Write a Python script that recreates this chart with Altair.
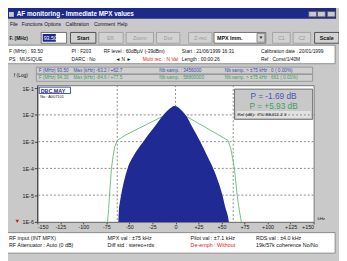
import altair as alt
import pandas as pd

# ---------------- chart values ----------------
# blue trace: measured distribution (kHz, log10 of probability)
blue_khz = [-62, -61.5, -60.5, -59, -56, -52, -45, -35, -24, -13, -8, -4, -1.5,
            1.5, 5, 8, 11, 19, 27, 34, 41, 46.5, 51, 54.5, 57, 58]
blue_exp = [-6.0, -5.6, -5.3, -5.0, -4.5, -4.0, -3.5, -3.0, -2.5, -2.0, -1.82, -1.71, -1.67,
            -1.69, -1.78, -1.88, -2.0, -2.5, -3.0, -3.5, -4.0, -4.5, -5.0, -5.5, -5.8, -6.0]
# green trace: reference curve
green_khz = [-73.7, -72.5, -71.6, -69.5, -67.5, -66, -63, -54.6, -13, 0, 11,
             57, 60, 62, 64, 67, 69.5, 71.6]
green_exp = [-6.0, -5.5, -5.0, -4.0, -3.5, -3.2, -2.95, -2.76, -2.04, -1.95, -2.04,
             -2.95, -3.25, -3.6, -4.0, -5.0, -5.6, -6.0]
baseline = 1e-6
# dotted markers (max deviation of trace 1 and centre) and decade grid
marker_khz = [-63.2, 0, 62.7]
grid_decades = [1e-2, 1e-3, 1e-4, 1e-5]
x_ticks = [-150, -125, -100, -75, -50, -25, 0, 25, 50, 75, 100, 125, 150]
y_ticks = [1e-6, 1e-5, 1e-4, 1e-3, 1e-2, 1e-1]

# ---------------- layout ----------------
OX, OY = 38, 84          # plot origin in window pixels
W, H = 283, 140
FONT = "Liberation Sans"
BLUE = "#1f2a94"
GREEN = "#6cc08a"

blue_df = pd.DataFrame({"khz": blue_khz, "p": [10 ** e for e in blue_exp],
                        "base": [baseline] * len(blue_khz)})
green_df = pd.DataFrame({"khz": green_khz, "p": [10 ** e for e in green_exp]})
vgrid_df = pd.DataFrame({"khz": marker_khz})
hgrid_df = pd.DataFrame({"p": grid_decades})

xscale = alt.Scale(domain=[-150, 150], nice=False, zero=False)
yscale = alt.Scale(type="log", domain=[1e-6, 0.129], nice=False)

xaxis = alt.Axis(values=x_ticks, title=None, grid=False, labelFontSize=5.5, labelFont=FONT,
                 labelColor="#222", tickSize=2, tickColor="#444", labelPadding=1,
                 domainColor="#777",
                 labelExpr="datum.value > 0 ? '+' + datum.value : (datum.value < 0 ? '-' + abs(datum.value) : '0')")
yaxis = alt.Axis(values=y_ticks, title=None, grid=False, labelFontSize=5.5, labelFont=FONT,
                 labelColor="#222", tickSize=3, tickColor="#444", labelPadding=1,
                 domainColor="#333",
                 labelExpr="'1E-' + round(-log(datum.value) / LN10)")

vgrid = alt.Chart(vgrid_df).mark_rule(color="#8a8a8a", strokeDash=[2, 2], strokeWidth=1).encode(
    x=alt.X("khz:Q", scale=xscale, axis=xaxis))
hgrid = alt.Chart(hgrid_df).mark_rule(color="#8a8a8a", strokeDash=[2, 2], strokeWidth=1).encode(
    y=alt.Y("p:Q", scale=yscale, axis=yaxis))
green = alt.Chart(green_df).mark_line(color=GREEN, strokeWidth=1).encode(
    x=alt.X("khz:Q", scale=xscale, axis=xaxis),
    y=alt.Y("p:Q", scale=yscale, axis=yaxis))
blue = alt.Chart(blue_df).mark_area(color=BLUE, opacity=1, interpolate="monotone").encode(
    x=alt.X("khz:Q", scale=xscale, axis=xaxis),
    y=alt.Y("p:Q", scale=yscale, axis=yaxis),
    y2="base:Q")

# ---------------- window chrome (pixel positions) ----------------
BTN = "#d2d2d2"
rects = [
    (3, 3, 344, 16, "#1e2a8a", "transparent"),
    (9, 9, 14, 14, "#c9c9c9", "transparent"),
    (316, 8.5, 324, 14, "#c9c9c9", "#555"), (325, 8.5, 333, 14, "#c9c9c9", "#555"),
    (335, 8.5, 343, 14, "#c9c9c9", "#555"),
    (42, 30, 68, 41, "#ffffff", "#555"),
    (43.5, 31.5, 57, 39.5, "#1e2a8a", "transparent"),
    (72, 30, 98, 41, BTN, "#333"),
    (101, 30, 126, 41, BTN, "#999"), (129, 30, 157, 41, BTN, "#999"),
    (160, 30, 184, 41, BTN, "#999"), (193, 30, 217, 41, BTN, "#999"),
    (219, 30, 272, 41, "#ffffff", "#555"), (263, 31, 271, 40, BTN, "#777"),
    (279, 30, 297, 41, BTN, "#999"), (300, 30, 318, 41, BTN, "#999"),
    (322, 30, 347, 41, BTN, "#333"),
    (5, 43, 343, 62, "#ffffff", "#777"),
    (37, 65.5, 320, 72.5, "#cfcfcf", "#8a8a8a"),
    (37, 73, 320, 80, "#cfcfcf", "#8a8a8a"),
    (40, 86, 72, 92.5, "#ffffff", "#1e2a8a"),
    (240, 88, 320, 119, "#c8c8c8", "#555"),
    (242, 110.5, 318, 117.5, "#e2e2e2", "transparent"),
    (5, 235, 343, 256, "#ffffff", "#777"),
]
rect_df = pd.DataFrame(rects, columns=["x1", "y1", "x2", "y2", "fill", "stroke"])
for c in ["x1", "x2"]:
    rect_df[c] = rect_df[c] - OX
for c in ["y1", "y2"]:
    rect_df[c] = rect_df[c] - OY

BLK, GRY, RED = "#111", "#9a9a9a", "#e02020"
LB, LG = "#3a4db0", "#3c9c5c"
texts = [
    # t, x, y, color, size, weight, align
    ("AF monitoring - Immediate MPX values", 17, 11.5, "#ffffff", 6.5, "bold", "left"),
    ("File", 10, 21.5, BLK, 5, "normal", "left"),
    ("Functions", 22, 21.5, BLK, 5, "normal", "left"),
    ("Options", 45, 21.5, BLK, 5, "normal", "left"),
    ("Calibration", 67, 21.5, BLK, 5, "normal", "left"),
    ("Comment", 96, 21.5, BLK, 5, "normal", "left"),
    ("Help", 120, 21.5, BLK, 5, "normal", "left"),
    ("F. (MHz)", 9.5, 36, BLK, 5, "bold", "left"),
    ("93.50", 44.5, 36, "#ffffff", 5.5, "normal", "left"),
    ("Start", 85, 36, BLK, 5.5, "bold", "center"),
    ("Eff.", 113.5, 36, GRY, 5.5, "normal", "center"),
    ("Zoom", 143, 36, GRY, 5.5, "normal", "center"),
    ("Dur", 172, 36, GRY, 5.5, "normal", "center"),
    ("Z-rec", 205, 36, GRY, 5.5, "normal", "center"),
    ("MPX Imm.", 222, 36, BLK, 5.5, "bold", "left"),
    ("▼", 267, 36, BLK, 4.5, "normal", "center"),
    ("C1", 288, 36, GRY, 5.5, "normal", "center"),
    ("C2", 309, 36, GRY, 5.5, "normal", "center"),
    ("Scale", 334.5, 36, BLK, 5.5, "bold", "center"),
    ("F (MHz) : 93.50", 9, 49.5, BLK, 5, "normal", "left"),
    ("PI : F203", 73, 49.5, BLK, 5, "normal", "left"),
    ("RF level : 60dBµV (-39dBm)", 106, 49.5, BLK, 5, "normal", "left"),
    ("Start : 21/06/1999 16:31", 186, 49.5, BLK, 5, "normal", "left"),
    ("Calibration date : 20/01/1999", 267, 49.5, BLK, 5, "normal", "left"),
    ("PS : MUSIQUE", 9, 57, BLK, 5, "normal", "left"),
    ("DARC : No", 73, 57, BLK, 5, "normal", "left"),
    ("◄ N ►", 118, 57, BLK, 5, "normal", "left"),
    ("Multi rec. : N Val", 146, 57, RED, 5, "normal", "left"),
    ("Length : 00:00:26", 186, 57, BLK, 5, "normal", "left"),
    ("Ref : Const/1/40M", 267, 57, BLK, 5, "normal", "left"),
    ("f (Log)", 14, 73.5, BLK, 5, "normal", "left"),
    ("F (MHz) 93.50", 39.5, 69.2, LB, 4.8, "normal", "left"),
    ("Max (kHz) -63.2 / +62.7", 75, 69.2, LB, 4.8, "normal", "left"),
    ("Nb samp. : 3456000", 163, 69.2, LB, 4.8, "normal", "left"),
    ("Nb samp. > ±75 kHz : 0 ( 0.00%)", 230, 69.2, LB, 4.8, "normal", "left"),
    ("F (MHz) 94.30", 39.5, 76.7, LG, 4.8, "normal", "left"),
    ("Max (kHz) -84.6 / +77.5", 75, 76.7, LG, 4.8, "normal", "left"),
    ("Nb samp. : 58800000", 163, 76.7, LG, 4.8, "normal", "left"),
    ("Nb samp. > ±75 kHz : 661 ( 0.01%)", 230, 76.7, LG, 4.8, "normal", "left"),
    ("DBC.MAY", 41.5, 89.5, "#1e2a8a", 5.5, "bold", "left"),
    ("No : A007101", 41, 96, BLK, 4, "normal", "left"),
    ("P = -1.69 dB", 280, 95, "#4556b8", 8.5, "normal", "center"),
    ("P = +5.93 dB", 280, 105, "#3aa060", 8.5, "normal", "center"),
    ("Ref (dB) :  ITU BS412-2.3", 243, 114.2, BLK, 4.5, "normal", "left"),
    ("kHz", 325, 221.5, BLK, 4.5, "normal", "left"),
    ("RF input (INT MPX)", 9, 240.5, BLK, 5.5, "normal", "left"),
    ("MPX val : ±75 kHz", 110, 240.5, BLK, 5.5, "normal", "left"),
    ("Pilot val : ±7.1 kHz", 195, 240.5, BLK, 5.5, "normal", "left"),
    ("RDS val : ±4.0 kHz", 262, 240.5, BLK, 5.5, "normal", "left"),
    ("RF Attenuator : Auto (0 dB)", 9, 247.5, BLK, 5.5, "normal", "left"),
    ("Diff std : stereo+rds", 110, 247.5, BLK, 5.5, "normal", "left"),
    ("De-emph : Without", 195, 247.5, RED, 5.5, "normal", "left"),
    ("19k/57k coherence No/No", 262, 247.5, BLK, 5.5, "normal", "left"),
]
text_df = pd.DataFrame(texts, columns=["t", "x", "y", "c", "s", "w", "a"])
text_df["px"] = text_df["x"] - OX
text_df["py"] = text_df["y"] - OY

rect_layer = alt.Chart(rect_df).mark_rect(strokeWidth=0.8).encode(
    x=alt.X("x1:Q", scale=None, axis=None), x2="x2:Q",
    y=alt.Y("y1:Q", scale=None, axis=None), y2="y2:Q",
    fill=alt.Fill("fill:N", scale=None, legend=None),
    stroke=alt.Stroke("stroke:N", scale=None, legend=None))

text_layers = []
for (w, a), sub in text_df.groupby(["w", "a"]):
    text_layers.append(
        alt.Chart(sub).mark_text(font=FONT, fontWeight=w, align=a, baseline="middle").encode(
            x=alt.X("px:Q", scale=None, axis=None),
            y=alt.Y("py:Q", scale=None, axis=None),
            text="t:N",
            color=alt.Color("c:N", scale=None, legend=None),
            size=alt.Size("s:Q", scale=None, legend=None)))

tri_df = pd.DataFrame({"px": [17.5 - OX], "py": [223.5 - OY]})
tri = alt.Chart(tri_df).mark_point(shape="triangle-down", filled=True, color="#d02020",
                                   size=14, opacity=1).encode(
    x=alt.X("px:Q", scale=None, axis=None), y=alt.Y("py:Q", scale=None, axis=None))

chart = alt.layer(rect_layer, hgrid, vgrid, green, blue, tri, *text_layers).properties(
    width=W, height=H,
    autosize=alt.AutoSizeParams(type="none"),
    padding={"left": 30, "top": 76, "right": 26, "bottom": 37},
    background="#c9c9c9",
).configure_view(fill="#ffffff", stroke="#777", strokeWidth=1)

chart.save("out.html", embed_options={"renderer": "svg", "actions": False})
